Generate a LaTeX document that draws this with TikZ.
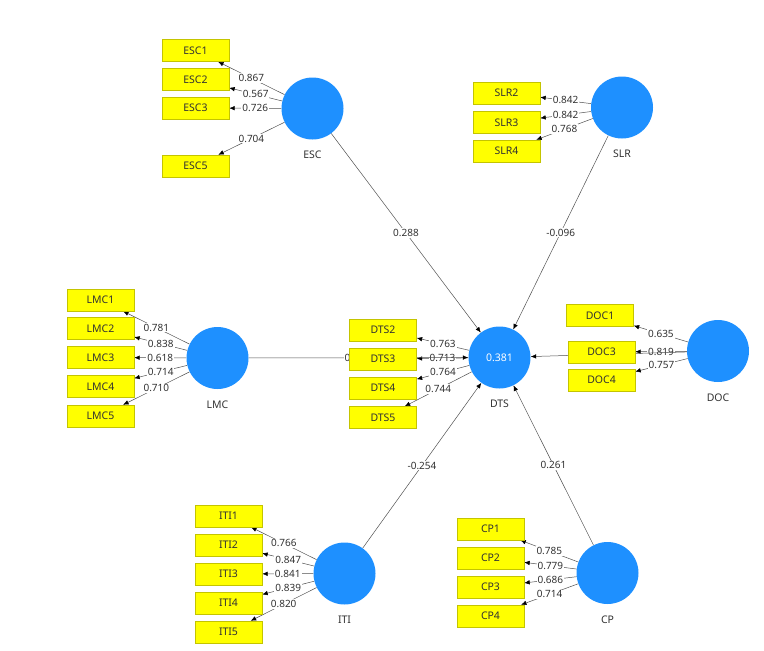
\documentclass[tikz,border=0pt]{standalone}
\usepackage{fontspec}
\setmainfont{Noto Sans}
\usepackage{tikz}
\usetikzlibrary{arrows.meta}
\definecolor{latentblue}{RGB}{30,144,255}
\definecolor{itemyellow}{RGB}{255,255,0}
\definecolor{itemborder}{RGB}{196,196,0}
\definecolor{linegray}{RGB}{80,80,80}
\definecolor{textgray}{RGB}{50,50,50}
\pgfdeclarelayer{background}
\pgfsetlayers{background,main}

\begin{document}
\begin{tikzpicture}[x=1pt, y=-1pt, latent_style/.style={circle, fill=latentblue, minimum size=62pt, inner sep=0pt, text=white, font=\fontsize{10.5}{12}\selectfont},
			item_style/.style={rectangle, draw=itemborder, fill=itemyellow, minimum width=67pt, minimum height=22pt, inner sep=0pt, text=textgray, font=\fontsize{10.5}{12}\selectfont},
			name_style/.style={text=textgray, font=\fontsize{10.5}{12}\selectfont},
			edge_style/.style={draw=linegray, line width=0.5pt, -{Latex[black,length=5.5pt,width=4.5pt]}},
			coef_style/.style={fill=white, inner sep=1pt, text=textgray, font=\fontsize{10}{11}\selectfont}]
			
			\useasboundingbox (0,0) rectangle (764,651);
			
			% latent variables
			\foreach \x/\y/\n in {312.5/108.5/ESC,622/107.5/SLR,217.5/358/LMC,718/351/DOC,344.5/573.5/ITI,607.5/573/CP}{
				\node[latent_style, label={[name_style, label distance=8pt]below:\n}] (\n) at (\x,\y){};}
			\node[latent_style, label={[name_style, label distance=8pt]below:DTS}] (DTS) at (499.5,357.5){0.381};
			
			% indicators
			\foreach \x/\y/\n in {195.5/50.5/ESC1,195.5/79.5/ESC2,195.5/108/ESC3,195.5/166/ESC5}{
				\node[item_style] (\n) at (\x,\y){\n};}
			\foreach \x/\y/\n in {506.5/93/SLR2,506.5/122.5/SLR3,506.5/151/SLR4}{
				\node[item_style] (\n) at (\x,\y){\n};}
			\foreach \x/\y/\n in {100.5/300/LMC1,100.5/328.5/LMC2,100.5/357.5/LMC3,100.5/386.5/LMC4,100.5/416/LMC5}{
				\node[item_style] (\n) at (\x,\y){\n};}
			\foreach \x/\y/\n in {383/330/DTS2,383/359/DTS3,383/388/DTS4,383/417.5/DTS5}{
				\node[item_style] (\n) at (\x,\y){\n};}
			\foreach \x/\y/\n in {600/315.5/DOC1,601.5/352/DOC3,601.5/380/DOC4}{
				\node[item_style] (\n) at (\x,\y){\n};}
			\foreach \x/\y/\n in {228.5/516/ITI1,228.5/545/ITI2,228.5/574/ITI3,228.5/603/ITI4,228.5/632/ITI5}{
				\node[item_style] (\n) at (\x,\y){\n};}
			\foreach \x/\y/\n in {490.5/529/CP1,490.5/558/CP2,490.5/587/CP3,490.5/616/CP4}{
				\node[item_style] (\n) at (\x,\y){\n};}
			
			\begin{pgfonlayer}{background}
				% outer loadings
				\foreach \a/\b/\v in {ESC/ESC1/0.867,ESC/ESC2/0.567,ESC/ESC3/0.726,ESC/ESC5/0.704,
					SLR/SLR2/0.842,SLR/SLR3/0.842,SLR/SLR4/0.768,
					LMC/LMC1/0.781,LMC/LMC2/0.838,LMC/LMC3/0.618,LMC/LMC4/0.714,LMC/LMC5/0.710,
					DTS/DTS2/0.763,DTS/DTS3/0.713,DTS/DTS4/0.764,DTS/DTS5/0.744,
					DOC/DOC1/0.635,DOC/DOC3/0.819,DOC/DOC4/0.757,
					ITI/ITI1/0.766,ITI/ITI2/0.847,ITI/ITI3/0.841,ITI/ITI4/0.839,ITI/ITI5/0.820,
					CP/CP1/0.785,CP/CP2/0.779,CP/CP3/0.686,CP/CP4/0.714}{
					\draw[edge_style] (\a) -- node[coef_style]{\v} (\b);}
				
				% path coefficients
				\foreach \a/\v in {ESC/0.288,SLR/-0.096,ITI/-0.254,CP/0.261}{
					\draw[edge_style] (\a) -- node[coef_style]{\v} (DTS);}
				\draw[edge_style] (LMC) -- node[coef_style, pos=0.45]{0} (DTS);
				\draw[edge_style] (DOC) -- (DTS);
			\end{pgfonlayer}
		\end{tikzpicture}
\end{document}
